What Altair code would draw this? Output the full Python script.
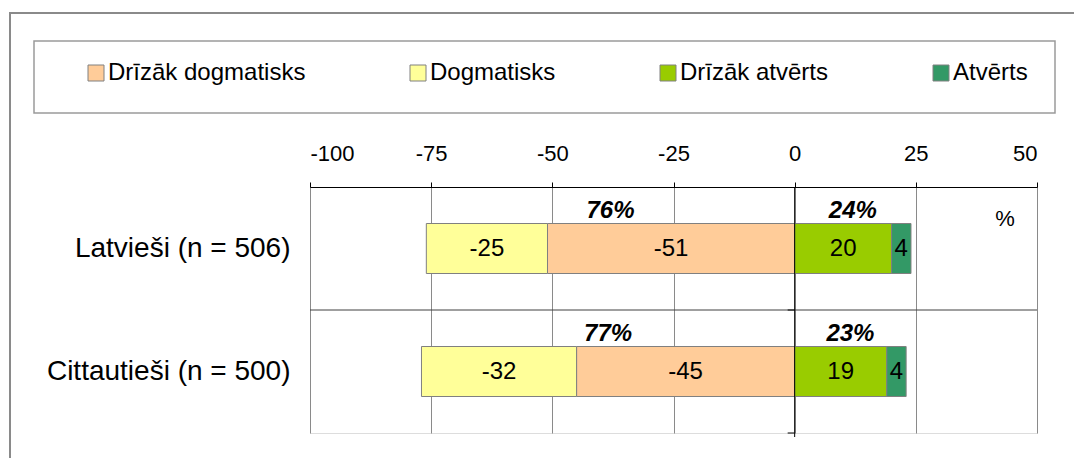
import altair as alt
import pandas as pd

FONT = "Liberation Sans"

categories = ["Latvieši (n = 506)", "Cittautieši (n = 500)"]
series = ["Drīzāk dogmatisks", "Dogmatisks", "Drīzāk atvērts", "Atvērts"]
colors = ["#FFCC99", "#FFFF99", "#99CC00", "#339966"]

drizak_dogmatisks = [-51, -45]
dogmatisks = [-25, -32]
drizak_atverts = [20, 19]
atverts = [4, 4]

x_ticks = [-100, -75, -50, -25, 0, 25, 50]
x_domain = [-100, 50]

W, H = 727, 246

# build segment table (stacked away from zero)
rows = []
for i, cat in enumerate(categories):
    neg_start = 0
    for name, vals in [("Drīzāk dogmatisks", drizak_dogmatisks), ("Dogmatisks", dogmatisks)]:
        v = vals[i]
        rows.append(dict(cat=cat, series=name, start=neg_start, end=neg_start + v,
                         mid=neg_start + v / 2, label=str(v)))
        neg_start += v
    pos_start = 0
    for name, vals in [("Drīzāk atvērts", drizak_atverts), ("Atvērts", atverts)]:
        v = vals[i]
        rows.append(dict(cat=cat, series=name, start=pos_start, end=pos_start + v,
                         mid=pos_start + v / 2, label=str(v)))
        pos_start += v
seg = pd.DataFrame(rows)

tot_rows = []
for i, cat in enumerate(categories):
    neg = drizak_dogmatisks[i] + dogmatisks[i]
    pos = drizak_atverts[i] + atverts[i]
    tot_rows.append(dict(cat=cat, x=neg / 2, text=f"{abs(neg)}%"))
    tot_rows.append(dict(cat=cat, x=pos / 2, text=f"{pos}%"))
tot = pd.DataFrame(tot_rows)

dummy = pd.DataFrame({"a": [0]})
sep_df = pd.DataFrame({"cat": categories[1:]})

x_scale = alt.Scale(domain=x_domain, nice=False, zero=False)
y_scale = alt.Scale(domain=categories, paddingInner=0, paddingOuter=0)

ax_x = alt.Axis(orient="top", values=x_ticks, title=None, labelFontSize=22, labelFont=FONT,
                labelColor="black", labelPadding=17, tickSize=5, tickColor="black",
                domainColor="black", gridColor="#8a8a8a", gridWidth=1, grid=True,
                labelExpr="'' + datum.value")
ax_y = alt.Axis(title=None, labelFontSize=28, labelFont=FONT, labelColor="black", labelLimit=400,
                labelPadding=20, ticks=False, domain=False, grid=False)

outer = alt.Chart(dummy).mark_rect(fill="white", fillOpacity=0, stroke="#8a8a8a", strokeWidth=2).encode(
    x=alt.value(-300), x2=alt.value(820), y=alt.value(-174), y2=alt.value(320)
)
legend_box = alt.Chart(dummy).mark_rect(fill="white", stroke="#9a9a9a", strokeWidth=1.5).encode(
    x=alt.value(-276), x2=alt.value(745), y=alt.value(-146), y2=alt.value(-74)
)

separator = alt.Chart(sep_df).mark_rule(color="#404040", strokeWidth=1).encode(
    y=alt.Y("cat:N", scale=y_scale, sort=categories, axis=ax_y, bandPosition=0)
)

bars = alt.Chart(seg).mark_bar(size=50, stroke="#808080", strokeWidth=1).encode(
    x=alt.X("start:Q", scale=x_scale, axis=ax_x),
    x2="end:Q",
    y=alt.Y("cat:N", scale=y_scale, sort=categories, axis=ax_y),
    fill=alt.Fill("series:N", scale=alt.Scale(domain=series, range=colors),
                  legend=alt.Legend(orient="none", legendX=-226, legendY=-126, direction="horizontal",
                                    columns=4, columnPadding=100, symbolType="square", symbolSize=256,
                                    symbolStrokeColor="#808080", symbolStrokeWidth=1, labelFontSize=24,
                                    labelFont=FONT, labelColor="black", title=None, padding=0,
                                    labelOffset=0, labelLimit=400)),
)

# zero line of the category axis, with its small outward ticks
x0 = (0 - x_domain[0]) / (x_domain[1] - x_domain[0]) * W
zero_line = alt.Chart(dummy).mark_rule(color="black", strokeWidth=1).encode(
    x=alt.value(x0), y=alt.value(0), y2=alt.value(H + 4)
)
tick_df = pd.DataFrame({"ty": [H / 2, H]})
zero_ticks = alt.Chart(tick_df).mark_rule(color="black", strokeWidth=1).encode(
    x=alt.value(x0 - 7), x2=alt.value(x0), y=alt.Y("ty:Q", scale=None, axis=None)
)

seg_text = alt.Chart(seg).mark_text(fontSize=24, font=FONT, color="black").encode(
    x=alt.X("mid:Q", scale=x_scale, axis=ax_x),
    y=alt.Y("cat:N", scale=y_scale, sort=categories, axis=ax_y),
    text="label:N",
)

tot_text = alt.Chart(tot).mark_text(fontSize=24, font=FONT, fontWeight="bold", fontStyle="italic",
                                    color="black", dy=-38).encode(
    x=alt.X("x:Q", scale=x_scale, axis=ax_x),
    y=alt.Y("cat:N", scale=y_scale, sort=categories, axis=ax_y),
    text="text:N",
)

pct = alt.Chart(dummy).mark_text(fontSize=22, font=FONT, color="black").encode(
    x=alt.value(695), y=alt.value(32), text=alt.value("%")
)

chart = alt.layer(outer, legend_box, separator, bars, zero_line, zero_ticks, seg_text, tot_text, pct).properties(
    width=W, height=H,
    autosize=alt.AutoSizeParams(type="none"),
    padding={"left": 302, "top": 179, "right": 37, "bottom": 25},
).configure_view(stroke="#8a8a8a", strokeWidth=1).configure(background="white")

chart.save("out.html", embed_options={"renderer": "svg", "actions": False})
